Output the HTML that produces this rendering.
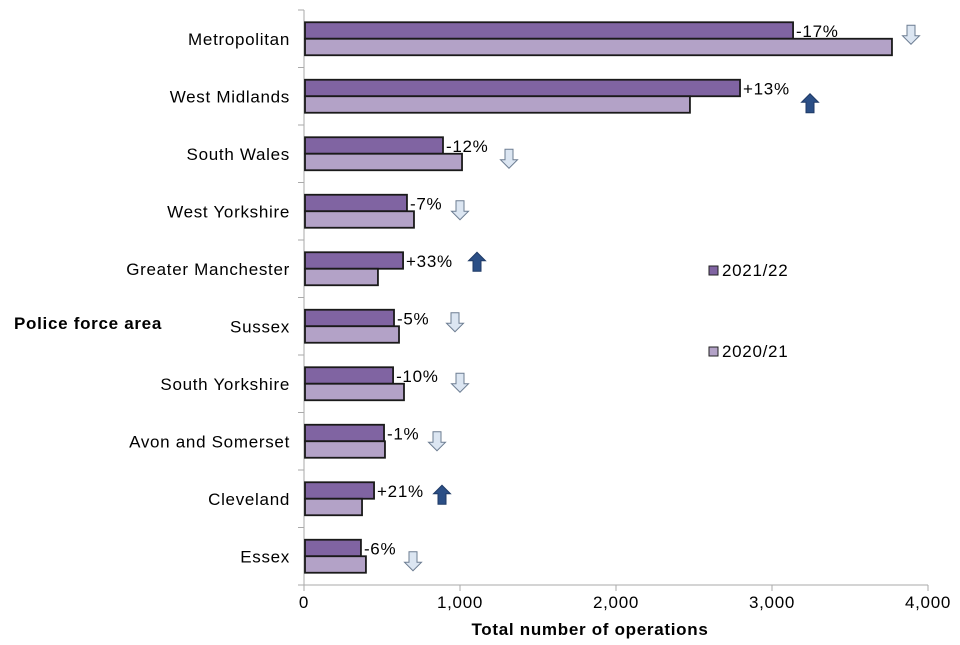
<!DOCTYPE html>
<html><head><meta charset="utf-8"><style>
body{margin:0;background:#fff;}
text{font-family:"Liberation Sans",Arial,sans-serif;fill:#000;letter-spacing:0.7px;}
</style></head><body>
<svg id="chart" width="960" height="640" xmlns="http://www.w3.org/2000/svg"></svg>
<script>
const categories=["Metropolitan","West Midlands","South Wales","West Yorkshire","Greater Manchester","Sussex","South Yorkshire","Avon and Somerset","Cleveland","Essex"];
const values2122=[3135,2795,891,660,635,577,571,513,449,365];
const values2021=[3769,2474,1013,705,474,609,641,519,372,397];
const changeLabels=["-17%","+13%","-12%","-7%","+33%","-5%","-10%","-1%","+21%","-6%"];
const xTicks=[0,1000,2000,3000,4000];
const xTickLabels=["0","1,000","2,000","3,000","4,000"];
const arrowX=[911,810,509,460,477,455,460,437,442,413];
const arrowDY=[-4,7,5,-1,-7,-4,-1,0,-4,5];

const NS="http://www.w3.org/2000/svg";
const svg=document.getElementById('chart');
const x0=304,x1=928,yTop=10,yBottom=585;
const xs=v=>x0+(v/4000)*(x1-x0);
const step=(yBottom-yTop)/categories.length;
const yc=i=>yTop+step*(i+0.5);
function mk(t,a,p){const e=document.createElementNS(NS,t);for(const k in a)e.setAttribute(k,a[k]);(p||svg).appendChild(e);return e;}

const ax=mk('line',{x1:x0,y1:yTop,x2:x0,y2:yBottom,stroke:'#aaa','stroke-width':1});


for(let i=0;i<=categories.length;i++){mk('line',{x1:x0-6,y1:yTop+step*i,x2:x0,y2:yTop+step*i,stroke:'#aaa'});}
const xa=mk('line',{x1:x0,y1:yBottom,x2:x1,y2:yBottom,stroke:'#aaa','stroke-width':1});



categories.forEach((c,i)=>{
  const y=yc(i);
  const lab=mk('text',{x:290,y:y+6,'text-anchor':'end','font-size':17});
  lab.textContent=c;
  
  
  const b1=mk('rect',{x:x0+1,y:y-16.5,width:xs(values2122[i])-x0-1,height:16.5,fill:'#8064a2',stroke:'#1a1a1a','stroke-width':1.8});
  
  
  const b2=mk('rect',{x:x0+1,y:y,width:xs(values2021[i])-x0-1,height:16.5,fill:'#b3a2c7',stroke:'#1a1a1a','stroke-width':1.8});
  
  
  const t=mk('text',{x:xs(values2122[i])+3,y:y-2,'font-size':17});
  t.textContent=changeLabels[i];
  
  
  const up=changeLabels[i][0]==='+';
  const ax=arrowX[i], ay=y+arrowDY[i];
  let pts;
  if(up) pts=[[ax,ay-9.5],[ax+8.5,ay-1],[ax+4,ay-1],[ax+4,ay+9.5],[ax-4,ay+9.5],[ax-4,ay-1],[ax-8.5,ay-1]];
  else pts=[[ax,ay+9.5],[ax+8.5,ay+1],[ax+4,ay+1],[ax+4,ay-9.5],[ax-4,ay-9.5],[ax-4,ay+1],[ax-8.5,ay+1]];
  const ar=mk('polygon',{points:pts.map(p=>p.join(',')).join(' '),fill:up?'#2b4f86':'#dce6f2',stroke:up?'#1f3a66':'#6d7d92','stroke-width':1});
  
  
});

xTicks.forEach((v,i)=>{
  mk('line',{x1:xs(v),y1:yBottom,x2:xs(v),y2:yBottom+6,stroke:'#aaa'});
  const t=mk('text',{x:xs(v),y:yBottom+23,'text-anchor':'middle','font-size':17});
  t.textContent=xTickLabels[i];
  
  
});
const xt=mk('text',{x:590,y:635,'text-anchor':'middle','font-size':17,'font-weight':'bold'});
xt.textContent='Total number of operations';


const yt=mk('text',{x:14,y:329,'font-size':17,'font-weight':'bold'});
yt.textContent='Police force area';



[["2021/22",'#8064a2',270],["2020/21",'#b3a2c7',351]].forEach(l=>{
  const g=mk('g',{});
  
  
  mk('rect',{x:709,y:l[2]-4,width:9,height:9,fill:l[1],stroke:'#222'},g);
  const t=mk('text',{x:722,y:l[2]+6,'font-size':17},g);t.textContent=l[0];
});
</script>
</body></html>
